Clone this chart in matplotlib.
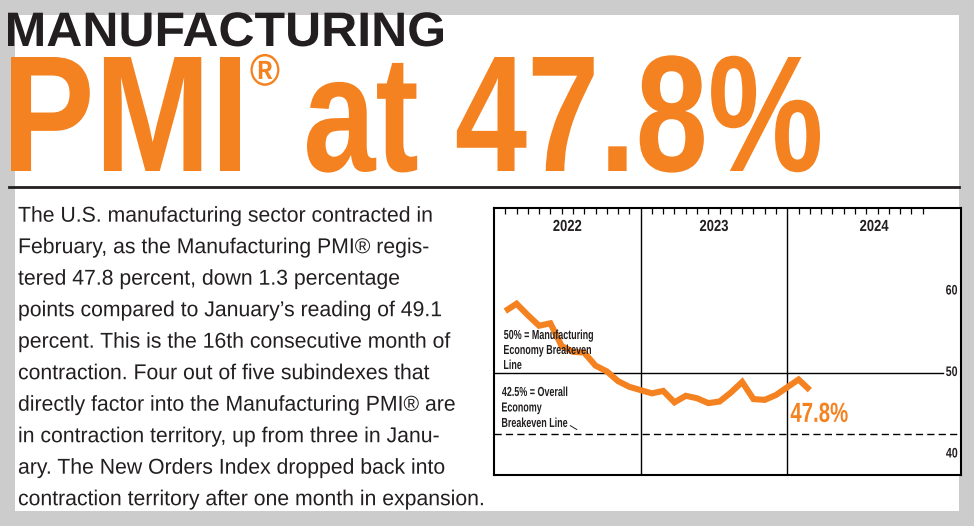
import matplotlib
matplotlib.use('Agg')
import matplotlib.pyplot as plt
from matplotlib.lines import Line2D
from matplotlib.patches import Rectangle
from matplotlib.patheffects import AbstractPathEffect
from matplotlib.textpath import TextPath
from matplotlib.font_manager import FontProperties
from matplotlib.transforms import Affine2D, blended_transform_factory

# ---- data ----
years = ['2022', '2023', '2024']
pmi = [57.6, 58.5, 57.1, 55.8, 56.1, 53.3, 52.6, 52.5, 50.9, 50.2, 49.0, 48.3,   # 2022
       47.5, 47.8, 46.4, 47.2, 46.9, 46.3, 46.5, 47.6, 48.9, 46.8, 46.7, 47.3,   # 2023
       49.2, 47.9]                                                               # 2024
y_labels = [40, 50, 60]
mfg_breakeven = 50
overall_breakeven = 42.5
latest = '47.8%'

mfg_note = ['50% = Manufacturing', 'Economy Breakeven', 'Line']
overall_note = ['42.5% = Overall', 'Economy', 'Breakeven Line']

paragraph = [
    'The U.S. manufacturing sector contracted in',
    'February, as the Manufacturing PMI\u00ae regis-',
    'tered 47.8 percent, down 1.3 percentage',
    'points compared to January\u2019s reading of 49.1',
    'percent. This is the 16th consecutive month of',
    'contraction. Four out of five subindexes that',
    'directly factor into the Manufacturing PMI\u00ae are',
    'in contraction territory, up from three in Janu-',
    'ary. The New Orders Index dropped back into',
    'contraction territory after one month in expansion.',
]

ORANGE = '#f58220'
INK = '#231f20'
FONT = 'Liberation Sans'
W, H, DPI = 974, 526, 100


class Stretch(AbstractPathEffect):
    """stretch the glyphs upward from the baseline (tall condensed look)"""

    def __init__(self, sy=1.0, anchor='ink'):
        super().__init__()
        self.sy = sy
        self.anchor = anchor

    def draw_path(self, renderer, gc, tpath, affine, rgbFace=None):
        m = affine.get_matrix()
        ox, oy = m[0, 2], m[1, 2]
        dx = 0
        if self.anchor == 'ink':   # put the ink (not the side bearing) on x
            dx = ox - tpath.get_extents(affine).x0
        tr = affine + Affine2D().translate(dx, -oy).scale(1, self.sy).translate(0, oy)
        renderer.draw_path(gc, tpath, tr, rgbFace)


def ink(s, size, weight):
    tp = TextPath((0, 0), s, size=size * DPI / 72,
                  prop=FontProperties(family=FONT, weight=weight))
    return tp.get_extents()


def fitted(parent, x, y, s, width, cap, weight='bold', ref=None, capref='H',
           anchor='ink', **kw):
    """text sized so its ink is `width` px wide and `cap` px tall"""
    size = width / ink(ref or s, 1, weight).width
    sy = cap / ink(capref, size, weight).height
    t = parent.text(x, y, s, fontsize=size, family=FONT, weight=weight,
                    va='baseline', **kw)
    t.set_path_effects([Stretch(sy, anchor)])
    return t


def fx(x):
    return x / W


def fy(y):
    return 1 - y / H


fig = plt.figure(figsize=(W / DPI, H / DPI), dpi=DPI, facecolor='#cccccc')
fig.add_artist(Rectangle((fx(15), fy(511)), fx(959 - 15), (511 - 15) / H,
                         transform=fig.transFigure, facecolor='white',
                         edgecolor='none', zorder=-5))
renderer = fig.canvas.get_renderer()

# headline
fitted(fig, fx(8), fy(46), 'MANUFACTURING', 435, 33.3, color=INK)
t = fitted(fig, fx(11), fy(171), 'PMI', 229, 114, anchor='origin', color=ORANGE)
t.set_x(fx(11 - ink('PMI', t.get_fontsize(), 'bold').x0))
reg_x = t.get_window_extent(renderer).x1 + 1
fitted(fig, fx(reg_x), fy(85.5), '\u00ae', 29, 32, capref='\u00ae', color=ORANGE)
fitted(fig, fx(307), fy(171), 'at 47.8%', 513, 114, color=ORANGE)

fig.add_artist(Line2D([fx(9), fx(959)], [fy(187), fy(187)], color=INK,
                      lw=2, transform=fig.transFigure))

# body copy
for i, line in enumerate(paragraph):
    fitted(fig, fx(18), fy(221.7 + 31.5 * i), line, 464, 14.8, weight='normal',
           ref=paragraph[-1], anchor='origin', color=INK)

# chart
ax = fig.add_axes([fx(494), fy(475), fx(961 - 494), (475 - 208) / H])
months = [13 * i + m + 1 for i in range(len(years)) for m in range(12)]
xmax = 41.4
ax.set_xlim(0, xmax)
ax.set_ylim(37.48, 70.25)

ax.plot(months[:len(pmi)], pmi, color=ORANGE, lw=4.4,
        solid_joinstyle='miter', solid_capstyle='butt', zorder=3)
for i in range(1, len(years)):
    ax.axvline(13 * i, color='black', lw=1, zorder=2)
ax.axhline(mfg_breakeven, xmax=0.961, color='black', lw=1, zorder=2)
ax.axhline(overall_breakeven, color='black', lw=1, ls=(0, (5.2, 3)), zorder=2)

ax.set_xticks(months)
ax.set_yticks([])
ax.tick_params(axis='x', top=True, bottom=False, labeltop=False,
               labelbottom=False, direction='in', length=4.5, width=0.9)
for s in ax.spines.values():
    s.set_linewidth(1.5)

top = blended_transform_factory(ax.transData, ax.transAxes)
side = blended_transform_factory(ax.transAxes, ax.transData)
bounds = [13 * i for i in range(len(years))] + [xmax]
for i, yr in enumerate(years):
    fitted(ax, (bounds[i] + bounds[i + 1]) / 2, 0.914, yr, 28, 11, ref='2022',
           anchor='origin', ha='center', transform=top, color=INK, zorder=5)

for v in y_labels:
    t = fitted(ax, 0.968, v, str(v), 11, 9.5, ref='60', transform=side,
               color=INK, zorder=5)
    t.set_va('center')

for i, line in enumerate(mfg_note):
    fitted(ax, 10 / 467, mfg_breakeven + (373 - (339 + 15 * i)) / 8.15, line,
           89, 9, ref=mfg_note[0], transform=side, color=INK, zorder=5)
for i, line in enumerate(overall_note):
    fitted(ax, 8 / 467, mfg_breakeven + (373 - (396 + 15.5 * i)) / 8.15, line,
           89, 9, ref=mfg_note[0], transform=side, color=INK, zorder=5)
ax.annotate('', xy=(7.35, overall_breakeven + 0.55),
            xytext=(6.75, overall_breakeven + 1.05),
            arrowprops=dict(arrowstyle='-', lw=0.7, color=INK,
                            shrinkA=0, shrinkB=0))

fitted(ax, 26.3, 44.0, latest, 57, 19, color=ORANGE, zorder=5)

fig.savefig('out.png', dpi=DPI, facecolor=fig.get_facecolor())
